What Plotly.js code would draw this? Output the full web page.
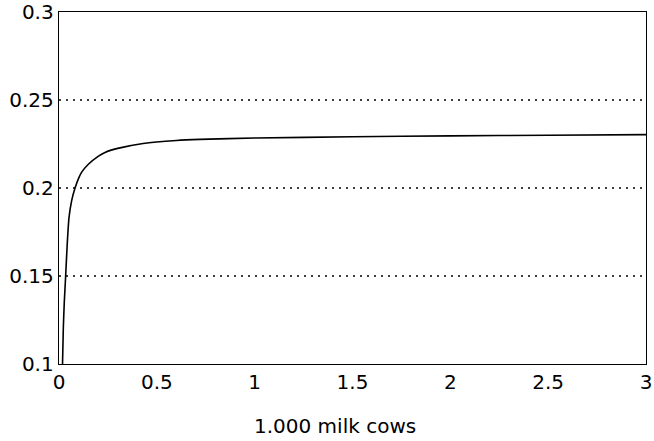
<!DOCTYPE html>
<html>
<head>
<meta charset="utf-8">
<script src="https://cdn.plot.ly/plotly-3.0.1.min.js"></script>
<style>html,body{margin:0;padding:0;background:#fff;}</style>
</head>
<body>
<div id="chart" style="width:654px;height:441px;"></div>
<script>
const xValues = [0.018, 0.022, 0.027, 0.034, 0.042, 0.051, 0.065, 0.082, 0.1, 0.116, 0.15, 0.2, 0.235, 0.3, 0.43, 0.6, 0.72, 1.0, 1.5, 2.0, 2.5, 3.0];
const yValues = [0.1, 0.12, 0.135, 0.15, 0.168, 0.183, 0.193, 0.2, 0.2055, 0.209, 0.2135, 0.218, 0.2202, 0.2225, 0.2253, 0.227, 0.2276, 0.2284, 0.2291, 0.2296, 0.23, 0.2303];
const xTicks = [0, 0.5, 1, 1.5, 2, 2.5, 3];
const xTickLabels = ['0', '0.5', '1', '1.5', '2', '2.5', '3'];
const yTicks = [0.1, 0.15, 0.2, 0.25, 0.3];
const yTickLabels = ['0.1', '0.15', '0.2', '0.25', '0.3'];
const gridLevels = [0.15, 0.2, 0.25];
const xTitle = '1.000 milk cows';

const font = {family: 'DejaVu Sans, Liberation Sans, Arial, sans-serif', size: 20, color: '#000'};

const traces = [{
  x: xValues, y: yValues, type: 'scatter', mode: 'lines',
  line: {color: '#000', width: 1.6, shape: 'spline', smoothing: 0.6},
  hoverinfo: 'skip', showlegend: false
}];

const shapes = gridLevels.map(v => ({
  type: 'line', xref: 'paper', yref: 'y', x0: 0, x1: 1, y0: v, y1: v,
  line: {color: '#000', width: 1.5, dash: '2px,5px'}, layer: 'below'
}));

const layout = {
  width: 654, height: 441,
  margin: {l: 59, r: 8, t: 12, b: 77},
  paper_bgcolor: '#fff', plot_bgcolor: '#fff',
  font: font,
  showlegend: false,
  shapes: shapes,
  annotations: [{
    text: xTitle, xref: 'paper', yref: 'paper', x: 0.47, y: -0.175,
    xanchor: 'center', yanchor: 'middle', showarrow: false, font: font
  }],
  xaxis: {
    range: [0, 3], tickvals: xTicks, ticktext: xTickLabels,
    showgrid: false, zeroline: false, showline: true, mirror: true,
    linecolor: '#000', linewidth: 1.3, ticks: '', ticklen: 0,
    tickfont: font
  },
  yaxis: {
    range: [0.1, 0.3], tickvals: yTicks, ticktext: yTickLabels,
    showgrid: false, zeroline: false, showline: true, mirror: true,
    linecolor: '#000', linewidth: 1.3, ticks: '', ticklen: 0,
    tickfont: font
  }
};

Plotly.newPlot('chart', traces, layout, {staticPlot: true, displayModeBar: false});
</script>
</body>
</html>
